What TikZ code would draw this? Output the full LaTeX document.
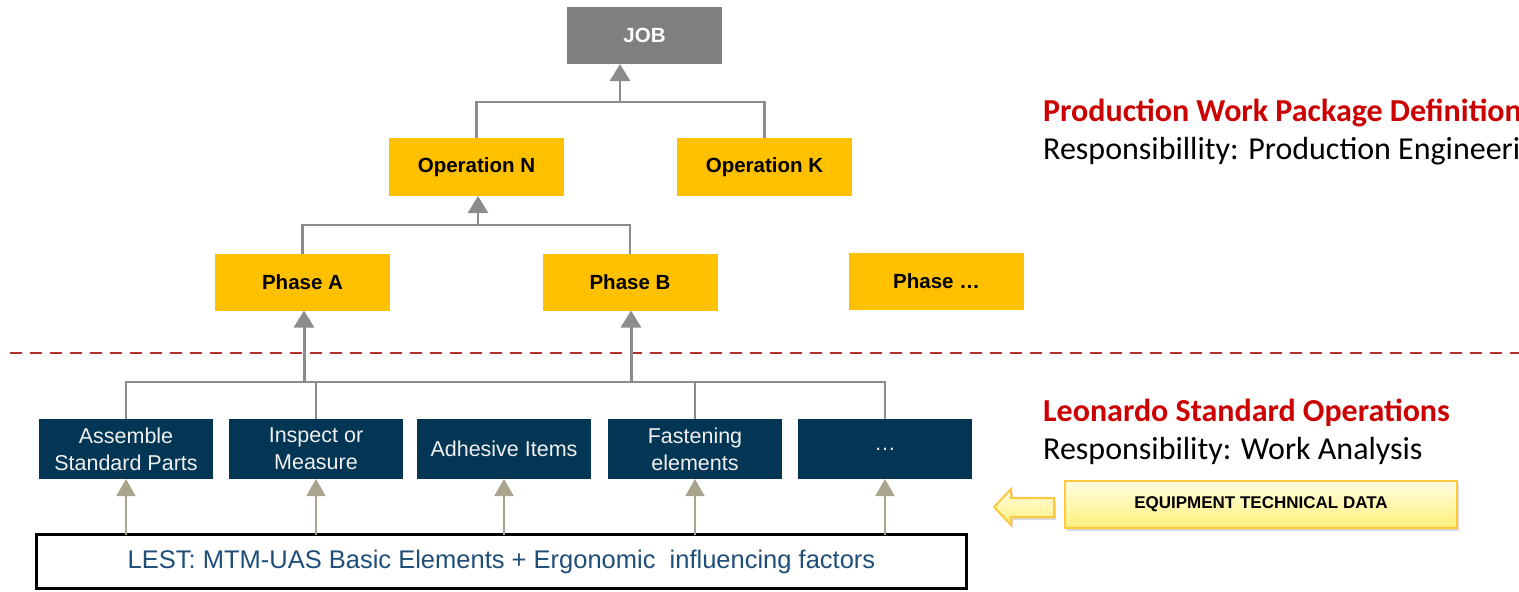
\documentclass[tikz,border=0pt]{standalone}
\usepackage{fontspec}
\setmainfont{Liberation Sans}
\newfontfamily\calib{Carlito}
\usetikzlibrary{arrows.meta,shadows}
\definecolor{jobgray}{HTML}{7F7F7F}
\definecolor{opyellow}{HTML}{FFC000}
\definecolor{navy}{HTML}{023654}
\definecolor{linegray}{HTML}{8C8C8C}
\definecolor{tan}{HTML}{A8A48E}
\definecolor{dashred}{HTML}{B3302A}
\definecolor{lestblue}{HTML}{1F4E79}
\definecolor{titlered}{HTML}{CC0000}
\definecolor{yborder}{HTML}{FFC83D}
\definecolor{ylight}{HTML}{FFFDE3}
\definecolor{ydark}{HTML}{FFF07A}
\tikzset{
  base/.style={inner sep=0pt, outer sep=0pt, align=center},
  jobbox/.style={base, fill=jobgray, text=white, font=\fontsize{20.5}{24}\selectfont\bfseries, minimum width=155pt, minimum height=57pt},
  ybox/.style={base, fill=opyellow, text=black, font=\fontsize{20.5}{24}\selectfont\bfseries, minimum width=175pt, minimum height=58pt},
  bbox/.style={base, fill=navy, text=white!94!black, font=\fontsize{21.5}{27}\selectfont, minimum width=174pt, minimum height=60pt},
  lestbox/.style={base, draw=black, line width=3pt, fill=white, text=lestblue, font=\fontsize{25.5}{28}\selectfont, minimum width=930pt, minimum height=54pt},
  tree/.style={draw=linegray, line width=2.2pt},
  treearrow/.style={draw=linegray, line width=2.6pt, -{Triangle[width=20pt,length=17pt]}},
  tanarrow/.style={draw=tan, line width=1.6pt, -{Triangle[width=19pt,length=17pt]}},
  titletext/.style={anchor=base west, inner sep=0pt, text=titlered, font=\calib\fontsize{32}{36}\selectfont\bfseries},
  resptext/.style={anchor=base west, inner sep=0pt, text=black, font=\calib\fontsize{32}{36}\selectfont},
}
\begin{document}
\begin{tikzpicture}[x=1pt,y=-1pt]
\useasboundingbox (0,0) rectangle (1519,592);
% nodes
\node[jobbox] (job) at (644.5,35.5) {JOB};
\node[ybox] (opN) at (476.5,167) {Operation N};
\node[ybox] (opK) at (764.5,167) {Operation K};
\node[ybox, minimum height=57pt] (phA) at (302.5,282) {Phase A};
\node[ybox, minimum height=57pt] (phB) at (630,282) {Phase B};
\node[ybox, minimum height=57pt] (phX) at (936.5,281.5) {Phase \dots};
\node[bbox] (b1) at (126,449) {Assemble\\Standard Parts};
\node[bbox] (b2) at (316,449) {Inspect or\\Measure};
\node[bbox] (b3) at (504,449) {Adhesive Items};
\node[bbox] (b4) at (695,449) {Fastening\\elements};
\node[bbox] (b5) at (885,449) {\dots};
\node[lestbox] (lest) at (501.5,561.5) {LEST: MTM-UAS Basic Elements + Ergonomic\ \ influencing factors};
% junctions
\coordinate (j1) at (620,102);
\coordinate (j2) at (478,225);
\coordinate (jA) at (304,382);
\coordinate (jB) at (631,382);
% upper tree
\draw[tree] (opN.north) |- (j1) -| (opK.north);
\draw[treearrow] (j1) -- (j1 |- job.south);
\draw[tree] (phA.north) |- (j2) -| (phB.north);
\draw[treearrow] (j2) -- (j2 |- opN.south);
% dashed separator
\coordinate (dl) at (10,353);
\coordinate (dr) at (1519,353);
\draw[dashred, line width=2.4pt, dash pattern=on 12pt off 8pt] (dl) -- (dr);
% lower tree
\draw[tree] (b1.north) |- (jA) -- (jB) -| (b5.north);
\draw[tree] (b2.north) -- (b2.north |- jA);
\draw[tree] (b4.north) -- (b4.north |- jA);
\draw[treearrow, line width=3pt] (jA) -- (jA |- phA.south);
\draw[treearrow, line width=3pt] (jB) -- (jB |- phB.south);
% LEST arrows
\foreach \b in {b1,b2,b3,b4,b5}{
  \draw[tanarrow] (\b.south |- lest.north) -- (\b.south);
}
% equipment box and arrow
\node[base, draw=yborder, line width=2pt, top color=ylight, bottom color=ydark,
  drop shadow={shadow xshift=2pt, shadow yshift=-3pt, opacity=0.3},
  minimum width=392pt, minimum height=47pt,
  font=\fontsize{17}{20}\selectfont\bfseries] (equip) at (1261,504.5) {EQUIPMENT TECHNICAL DATA};
\path[draw=yborder, line width=2pt, top color=ylight, bottom color=ydark,
  drop shadow={shadow xshift=2pt, shadow yshift=-3pt, opacity=0.3}]
  (994,507) -- (1011,489) -- (1011,498) -- (1054,498) -- (1054,517) -- (1011,517) -- (1011,525) -- cycle;
% right texts
\node[titletext] (t1) at (1043,121) {Production Work Package Definition};
\node[resptext] (r1) at (1043,159) {Responsibillity: Production Engineering};
\node[titletext] (t2) at (1043,421) {Leonardo Standard Operations};
\node[resptext] (r2) at (1043,459) {Responsibility: Work Analysis};
\end{tikzpicture}
\end{document}
